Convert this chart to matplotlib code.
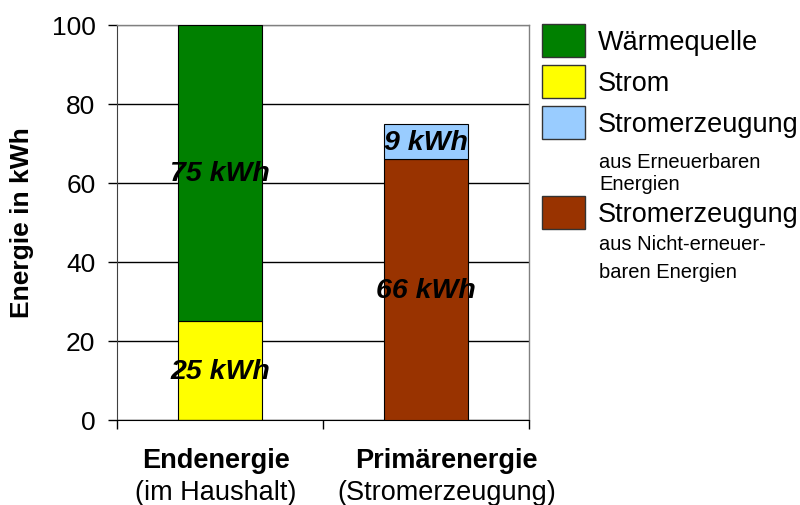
import matplotlib
matplotlib.use("Agg")
import matplotlib.pyplot as plt
from matplotlib.patches import Rectangle

plt.rcParams['font.family'] = ['Liberation Sans', 'DejaVu Sans']

categories = ["Endenergie", "Primärenergie"]
subtitles = ["(im Haushalt)", "(Stromerzeugung)"]
# stacked series (bottom to top)
waerme = [75, 0]
strom = [25, 0]
erneuerbar = [0, 9]
nicht_erneuerbar = [0, 66]
yticks = [0, 20, 40, 60, 80, 100]

c_green = "#008000"
c_yellow = "#FFFF00"
c_blue = "#99CCFF"
c_brown = "#993300"

W, H = 800, 506
fig = plt.figure(figsize=(W / 100, H / 100), dpi=100)
ax = fig.add_axes([117 / W, 1 - 421 / H, (529 - 117) / W, (421 - 26) / H])

x = [0.5, 1.5]
bw = 0.41
# Endenergie: Strom bottom, Wärmequelle on top
ax.bar(x, strom, width=bw, color=c_yellow, edgecolor="black", linewidth=0.8, zorder=3)
ax.bar(x, waerme, width=bw, bottom=strom, color=c_green, edgecolor="black", linewidth=0.8, zorder=3)
# Primärenergie: non-renewable bottom, renewable on top
ax.bar(x, nicht_erneuerbar, width=bw, color=c_brown, edgecolor="black", linewidth=0.8, zorder=3)
ax.bar(x, erneuerbar, width=bw, bottom=nicht_erneuerbar, color=c_blue, edgecolor="black", linewidth=0.8, zorder=3)

# value labels
lab_kw = dict(ha="center", va="center", fontsize=20.5, fontweight="bold", fontstyle="italic", color="black", zorder=5)
for i in range(2):
    segs = []
    if strom[i]:
        segs.append((0, strom[i]))
        segs.append((strom[i], waerme[i]))
    else:
        segs.append((0, nicht_erneuerbar[i]))
        segs.append((nicht_erneuerbar[i], erneuerbar[i]))
    for b, v in segs:
        if v:
            ax.text(x[i], b + v / 2, f"{v} kWh", **lab_kw)

ax.set_xlim(0, 2)
ax.set_ylim(0, 100)
ax.set_yticks(yticks)
ax.set_yticklabels([str(t) for t in yticks], fontsize=19)
ax.set_xticks([0, 1, 2])
ax.set_xticklabels([])
ax.tick_params(axis="y", direction="out", length=6.5, width=1, color="black", pad=9)
ax.tick_params(axis="x", direction="out", length=6.5, width=1, color="black")

ax.yaxis.grid(True, color="black", linewidth=1)
ax.set_axisbelow(True)
gl = ax.yaxis.get_gridlines()
gl[-1].set_color("#808080")

for s in ["top", "right"]:
    ax.spines[s].set_color("#808080")
    ax.spines[s].set_linewidth(1)
ax.spines["left"].set_color("#404040")
ax.spines["bottom"].set_color("black")

fig.text(22 / W, 1 - 223 / H, "Energie in kWh", rotation=90, ha="center", va="center",
         fontsize=19, fontweight="bold")

# category labels
xoff = [-0.02, 0.1]
for i, (c, s) in enumerate(zip(categories, subtitles)):
    ax.text(x[i] + xoff[i], 1 - (461 - 26) / (421 - 26), c, transform=ax.get_xaxis_transform(),
            ha="center", va="center", fontsize=19.5, fontweight="bold")
    ax.text(x[i] + xoff[i], 1 - (493 - 26) / (421 - 26), s, transform=ax.get_xaxis_transform(),
            ha="center", va="center", fontsize=19.5)

# legend (drawn manually)
legend_items = [
    (c_green, 25, ["Wärmequelle"], []),
    (c_yellow, 66, ["Strom"], []),
    (c_blue, 107, ["Stromerzeugung", "aus Erneuerbaren", "Energien"], [163, 185]),
    (c_brown, 197, ["Stromerzeugung", "aus Nicht-erneuer-", "baren Energien"], [245, 273]),
]
for col, ytop, lines, ys in legend_items:
    fig.add_artist(Rectangle((542 / W, 1 - (ytop + 33) / H), 43 / W, 33 / H,
                             facecolor=col, edgecolor="#333333", linewidth=1,
                             transform=fig.transFigure))
    fig.text(598 / W, 1 - (ytop + 18) / H, lines[0], ha="left", va="center", fontsize=19.5)
    for ln, yy in zip(lines[1:], ys):
        fig.text(599 / W, 1 - yy / H, ln, ha="left", va="center", fontsize=14.5)

fig.savefig("out.png", dpi=100)
